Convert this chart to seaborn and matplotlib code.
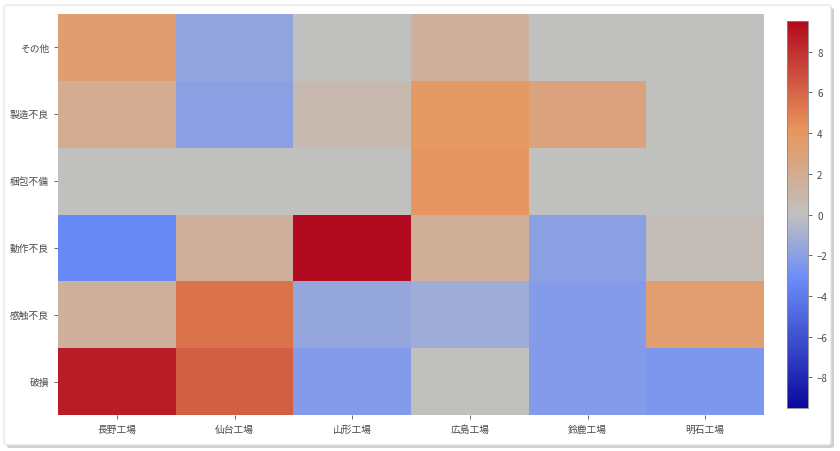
import matplotlib
matplotlib.use("Agg")
import matplotlib.pyplot as plt
import seaborn as sns
import pandas as pd
import numpy as np
from matplotlib.colors import LinearSegmentedColormap
from matplotlib.patches import FancyBboxPatch

sns.set_theme(style="white")
plt.rcParams['font.family'] = ['Noto Sans CJK JP', 'DejaVu Sans']

factories = ["長野工場", "仙台工場", "山形工場", "広島工場", "鈴鹿工場", "明石工場"]
defects = ["その他", "製造不良", "梱包不備", "動作不良", "感触不良", "破損"]

row_other = [3.4, -1.7, 0.0, 1.5, 0.0, 0.0]
row_manufacturing = [2.0, -2.0, 0.7, 3.8, 2.8, 0.0]
row_packing = [0.0, 0.0, 0.0, 4.0, 0.0, 0.0]
row_operation = [-3.3, 1.5, 9.5, 1.7, -2.0, 0.4]
row_feel = [1.5, 5.5, -1.6, -1.2, -2.3, 3.3]
row_damage = [8.8, 6.2, -2.3, 0.0, -2.3, -2.5]

df = pd.DataFrame([row_other, row_manufacturing, row_packing, row_operation, row_feel, row_damage],
                  index=defects, columns=factories)

vmax = 9.5
nodes = [(0.0, '#0a0a9e'), ((9.5 - 3.2) / 19, '#6a8cf8'), (0.5, '#c0c0c0'),
         ((9.5 + 4.2) / 19, '#e8955c'), (1.0, '#b20a1e')]
cmap = LinearSegmentedColormap.from_list('custom', nodes)

fig = plt.figure(figsize=(8.4, 4.52), dpi=100)
# card frame with shadow
shadow = FancyBboxPatch((7 / 840, 3 / 452), 827 / 840, 440 / 452,
                        boxstyle="round,pad=0,rounding_size=0.004",
                        transform=fig.transFigure, facecolor='#d0d0d0', edgecolor='none', zorder=-10)
card = FancyBboxPatch((4 / 840, 6 / 452), 827 / 840, 440 / 452,
                      boxstyle="round,pad=0,rounding_size=0.004",
                      transform=fig.transFigure, facecolor='white', edgecolor='#e2e2e2',
                      linewidth=0.8, zorder=-9)
fig.patches.extend([shadow, card])

ax = fig.add_axes([58 / 840, 1 - 416 / 452, (764 - 58) / 840, (416 - 15) / 452])
cax = fig.add_axes([787 / 840, 1 - 409 / 452, 21 / 840, (409 - 22) / 452])
ax.set_zorder(5)
cax.set_zorder(5)

sns.heatmap(df, ax=ax, cbar_ax=cax, cmap=cmap, vmin=-vmax, vmax=vmax, cbar=True)

ax.tick_params(axis='both', which='both', length=3, width=0.6, color='#555555',
               labelsize=7, labelcolor='#4a4a4a', bottom=True, left=True)
ax.set_xlabel("")
ax.set_ylabel("")
plt.setp(ax.get_yticklabels(), rotation=0)
plt.setp(ax.get_xticklabels(), rotation=0)

cax.tick_params(labelsize=7, labelcolor='#4a4a4a', length=3, width=0.6, color='#555555', right=True)
cax.set_yticks([-8, -6, -4, -2, 0, 2, 4, 6, 8])
cb = ax.collections[0].colorbar
cb.outline.set_edgecolor('#888888')
cb.outline.set_linewidth(0.6)
cb.outline.set_visible(True)

fig.savefig("out.png", dpi=100)
